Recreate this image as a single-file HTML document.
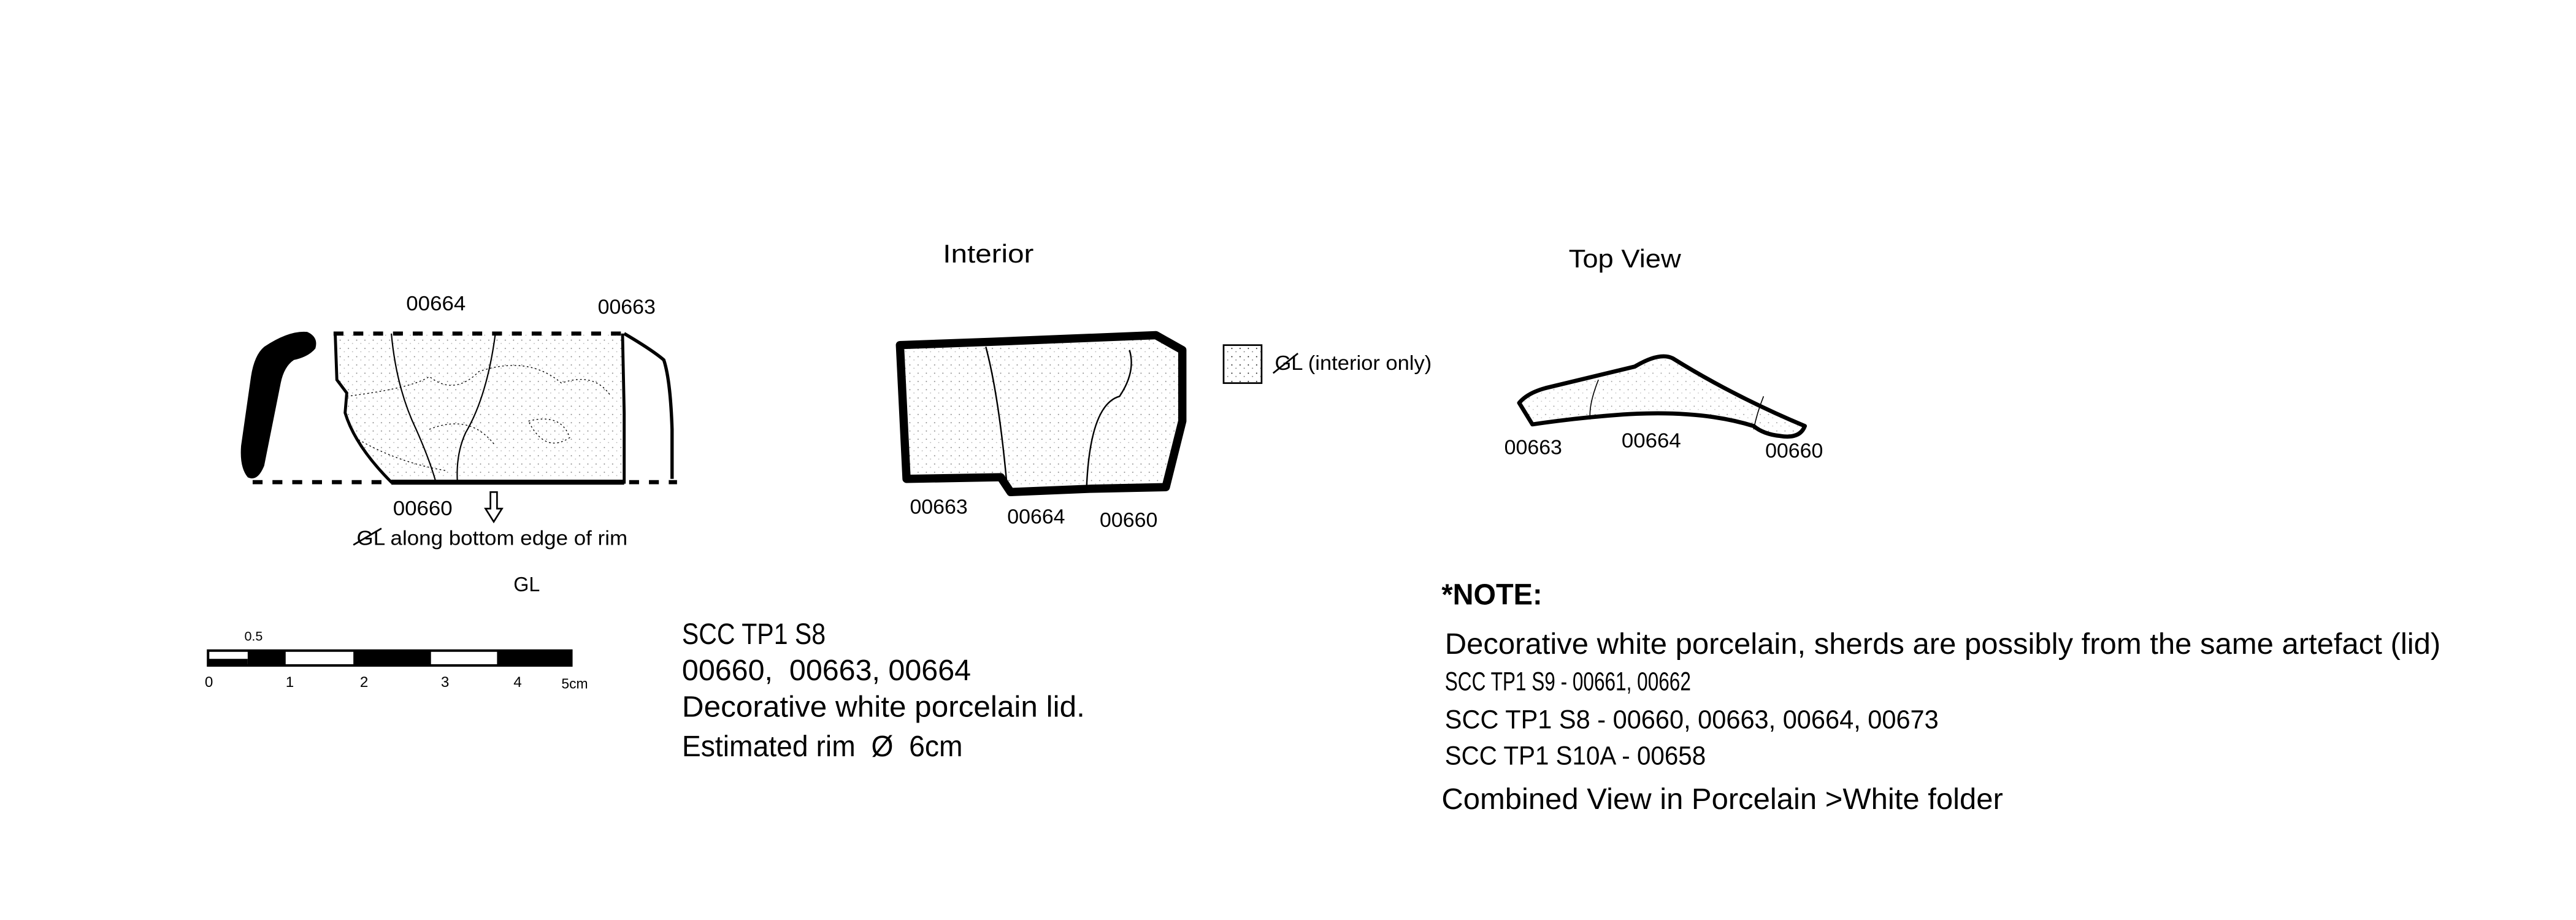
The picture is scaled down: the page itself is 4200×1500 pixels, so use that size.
<!DOCTYPE html>
<html><head><meta charset="utf-8"><style>
html,body{margin:0;padding:0;background:#fff;}
svg{display:block;}
text{font-family:"Liberation Sans Narrow","Liberation Sans",sans-serif;fill:#000;}
</style></head><body>
<svg width="4200" height="1500" viewBox="0 0 4200 1500" xmlns="http://www.w3.org/2000/svg">
<defs>
<pattern id="dots" width="5" height="5" patternUnits="userSpaceOnUse">
<circle cx="1" cy="1" r="0.35" fill="#000"/><circle cx="3.5" cy="3" r="0.3" fill="#555"/>
</pattern>
</defs>
<rect width="4200" height="1500" fill="#fff"/>
<g transform="scale(2.6923)">
<g>
<path d="M160,210 Q175,200 186,201 Q193,204 191,211 Q187,216 178,218 Q172,222 170,232 L160,282 Q156,292 150,289 Q145,283 146,270 L152,228 Q154,215 160,210 Z" fill="#000"/>
<line x1="202" y1="202" x2="380" y2="202" stroke="#000" stroke-width="2.5" stroke-dasharray="6,6"/>
<line x1="153" y1="292" x2="410" y2="292" stroke="#000" stroke-width="2.5" stroke-dasharray="6,6"/>
<path d="M203,202 L204,230 L210,238 L209,250 Q215,270 237,292 L378,292 L378,250 L377,202" fill="url(#dots)" fill-opacity="0.5" stroke="#000" stroke-width="1.8"/>
<line x1="237" y1="292" x2="378" y2="292" stroke="#000" stroke-width="3"/>
<path d="M378,202 Q395,212 402,218 Q406,230 407,260 L407,290" fill="none" stroke="#000" stroke-width="2"/>
<path d="M237,202 Q240,235 252,260 Q260,278 264,292 M300,202 Q295,240 282,262 Q276,275 277,292" fill="none" stroke="#000" stroke-width="0.8"/>
<path d="M210,240 Q250,235 260,228 Q275,240 290,225 Q320,215 340,232 Q360,225 370,240 M260,260 Q285,250 300,270 M320,255 Q340,250 345,265 Q330,275 320,255 M215,265 Q240,280 270,285" fill="none" stroke="#000" stroke-width="0.5" stroke-dasharray="1,1.5"/>
</g>
<text x="246" y="188" font-size="12.5" textLength="36" lengthAdjust="spacingAndGlyphs">00664</text>
<text x="362" y="190" font-size="12.5" textLength="35" lengthAdjust="spacingAndGlyphs">00663</text>
<text x="238" y="312" font-size="12.5" textLength="36" lengthAdjust="spacingAndGlyphs">00660</text>
<path d="M297,298 L297,308 L294,308 L299,316 L304,308 L301,308 L301,298 Z" fill="none" stroke="#000" stroke-width="1"/>
<text x="216" y="330" font-size="12.5" textLength="164" lengthAdjust="spacingAndGlyphs">GL along bottom edge of rim</text>
<line x1="214" y1="330" x2="231" y2="320" stroke="#000" stroke-width="1"/>
<text x="311" y="358" font-size="12.5" textLength="16" lengthAdjust="spacingAndGlyphs">GL</text>
<g>
<rect x="126" y="394" width="220" height="9" fill="#fff" stroke="#000" stroke-width="1.5"/>
<rect x="126" y="399" width="24" height="4" fill="#000"/>
<rect x="150" y="394" width="23" height="9" fill="#000"/>
<rect x="214" y="394" width="47" height="9" fill="#000"/>
<rect x="301" y="394" width="45" height="9" fill="#000"/>
<text x="148" y="388" font-size="8">0.5</text>
<text x="124" y="416" font-size="9">0</text>
<text x="173" y="416" font-size="9">1</text>
<text x="218" y="416" font-size="9">2</text>
<text x="267" y="416" font-size="9">3</text>
<text x="311" y="416" font-size="9">4</text>
<text x="340" y="417" font-size="8.5">5cm</text>
</g>
<text x="413" y="390" font-size="18" textLength="87" lengthAdjust="spacingAndGlyphs">SCC TP1 S8</text>
<text x="413" y="412" font-size="18" textLength="175" lengthAdjust="spacingAndGlyphs" xml:space="preserve">00660,  00663, 00664</text>
<text x="413" y="434" font-size="18" textLength="244" lengthAdjust="spacingAndGlyphs">Decorative white porcelain lid.</text>
<text x="413" y="458" font-size="18" textLength="170" lengthAdjust="spacingAndGlyphs" xml:space="preserve">Estimated rim  Ø  6cm</text>
<text x="571" y="159" font-size="15.5" textLength="55" lengthAdjust="spacingAndGlyphs">Interior</text>
<g>
<path d="M545,209 L600,207 L700,203 L716,212 L716,255 L706,295 L660,296 L612,298 L606,289 L549,290 Z" fill="url(#dots)" fill-opacity="0.5" stroke="#000" stroke-width="5" stroke-linejoin="round"/>
<path d="M597,210 Q605,240 610,296 M684,212 Q688,225 678,240 Q660,245 658,296" fill="none" stroke="#000" stroke-width="0.9"/>
</g>
<text x="551" y="311" font-size="12.5" textLength="35" lengthAdjust="spacingAndGlyphs">00663</text>
<text x="610" y="317" font-size="12.5" textLength="35" lengthAdjust="spacingAndGlyphs">00664</text>
<text x="666" y="319" font-size="12.5" textLength="35" lengthAdjust="spacingAndGlyphs">00660</text>
<g>
<rect x="741" y="209" width="23" height="23" fill="url(#dots)" stroke="#000" stroke-width="1"/>
<text x="772" y="224" font-size="12.5" textLength="95" lengthAdjust="spacingAndGlyphs">GL (interior only)</text>
<line x1="771" y1="226" x2="786" y2="214" stroke="#000" stroke-width="1"/>
</g>
<text x="950" y="162" font-size="15.5" textLength="68" lengthAdjust="spacingAndGlyphs">Top View</text>
<path d="M920,244 Q925,238 936,235 L990,222 Q1005,213 1013,217 Q1050,240 1093,258 Q1090,266 1078,264 Q1068,263 1062,258 Q1030,248 983,251 Q955,253 928,257 Z" fill="url(#dots)" fill-opacity="0.4" stroke="#000" stroke-width="2.5" stroke-linejoin="round"/>
<path d="M968,230 Q962,245 963,254 M1068,240 Q1064,250 1062,260" fill="none" stroke="#000" stroke-width="0.6"/>
<text x="911" y="275" font-size="12.5" textLength="35" lengthAdjust="spacingAndGlyphs">00663</text>
<text x="982" y="271" font-size="12.5" textLength="36" lengthAdjust="spacingAndGlyphs">00664</text>
<text x="1069" y="277" font-size="12.5" textLength="35" lengthAdjust="spacingAndGlyphs">00660</text>
<text x="873" y="366" font-size="18" font-weight="bold" textLength="61" lengthAdjust="spacingAndGlyphs">*NOTE:</text>
<text x="875" y="396" font-size="18" textLength="603" lengthAdjust="spacingAndGlyphs">Decorative white porcelain, sherds are possibly from the same artefact (lid)</text>
<text x="875" y="418" font-size="16" textLength="149" lengthAdjust="spacingAndGlyphs">SCC TP1 S9 - 00661, 00662</text>
<text x="875" y="441" font-size="16" textLength="299" lengthAdjust="spacingAndGlyphs">SCC TP1 S8 - 00660, 00663, 00664, 00673</text>
<text x="875" y="463" font-size="16" textLength="158" lengthAdjust="spacingAndGlyphs">SCC TP1 S10A - 00658</text>
<text x="873" y="490" font-size="18" textLength="340" lengthAdjust="spacingAndGlyphs">Combined View in Porcelain &gt;White folder</text>
</g>
</svg>
</body></html>
